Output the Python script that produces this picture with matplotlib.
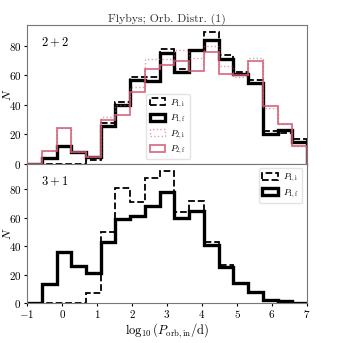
import numpy as np
import matplotlib
matplotlib.use("Agg")
import matplotlib.pyplot as plt
from matplotlib.patches import Patch

plt.rcParams['font.family'] = 'serif'
plt.rcParams['font.serif'] = ['cmr10', 'DejaVu Serif']
plt.rcParams['mathtext.fontset'] = 'cm'
plt.rcParams['axes.formatter.use_mathtext'] = True
plt.rcParams['axes.unicode_minus'] = True

edges = np.linspace(-1, 7, 20)

# 2+2 panel
p1i_22 = [0, 0, 0, 0, 3, 28, 42, 59, 59, 78, 64, 77, 89, 74, 62, 57, 22, 21, 17]
p1f_22 = [0, 4, 12, 8, 5, 26, 40, 57, 56, 75, 62, 77, 84, 71, 61, 55, 20, 23, 15]
p2i_22 = [0, 9, 24, 8, 5, 32, 40, 52, 71, 71, 77, 72, 80, 66, 59, 72, 38, 27, 12]
p2f_22 = [0, 9, 24, 8, 5, 30, 33, 49, 64, 67, 70, 63, 76, 61, 60, 70, 39, 27, 12]

# 3+1 panel
p1i_31 = [0, 0, 0, 0, 7, 50, 81, 71, 88, 93, 64, 72, 43, 27, 14, 8, 2, 1, 0]
p1f_31 = [0, 13, 36, 26, 21, 43, 59, 61, 68, 78, 60, 65, 41, 25, 14, 8, 2, 1, 0]

title = "Flybys; Orb. Distr. (1)"
pink = '#d45a72'

styles = {
    'p1i': dict(edgecolor='k', ls='--', lw=1.3, alpha=1.0),
    'p1f': dict(edgecolor='k', ls='-', lw=2.4, alpha=1.0),
    'p2i': dict(edgecolor=pink, ls=':', lw=1.0, alpha=0.6),
    'p2f': dict(edgecolor=pink, ls='-', lw=1.3, alpha=0.85),
}
labels = {'p1i': r'$P_{1,\mathrm{i}}$', 'p1f': r'$P_{1,\mathrm{f}}$',
          'p2i': r'$P_{2,\mathrm{i}}$', 'p2f': r'$P_{2,\mathrm{f}}$'}

def draw(ax, vals, key):
    st = styles[key]
    ax.stairs(vals, edges, color=st['edgecolor'], ls=st['ls'], lw=st['lw'], alpha=st['alpha'])

def handle(key):
    st = styles[key]
    return Patch(facecolor='none', edgecolor=st['edgecolor'], ls=st['ls'],
                 lw=st['lw'], alpha=st['alpha'], label=labels[key])

fig = plt.figure(figsize=(3.43, 3.43), dpi=100)
ax1 = fig.add_axes([0.079, 0.522, 0.816, 0.405])
ax2 = fig.add_axes([0.079, 0.117, 0.816, 0.405], sharex=ax1)

draw(ax1, p1i_22, 'p1i')
draw(ax1, p1f_22, 'p1f')
draw(ax1, p2i_22, 'p2i')
draw(ax1, p2f_22, 'p2f')
draw(ax2, p1i_31, 'p1i')
draw(ax2, p1f_31, 'p1f')

for ax in (ax1, ax2):
    ax.set_xlim(-1, 7)
    ax.set_ylabel(r'$N$', fontsize=8.5)
    ax.yaxis.set_label_coords(-0.05, 0.5)
    ax.tick_params(labelsize=8, length=2.5, pad=1.5)
    for s in ax.spines.values():
        s.set_color('#777777')
ax1.set_ylim(0, 94)
ax2.set_ylim(0, 98)
ax1.set_yticks([0, 20, 40, 60, 80])
ax2.set_yticks([0, 20, 40, 60, 80])
ax1.tick_params(labelbottom=False)
ax2.set_xticks(range(-1, 8))
ax2.set_xlabel(r'$\log_{10}(P_{\mathrm{orb,in}}/\mathrm{d})$', fontsize=9, labelpad=1)

ax1.text(0.05, 0.85, r'$2+2$', transform=ax1.transAxes, fontsize=9)
ax2.text(0.05, 0.85, r'$3+1$', transform=ax2.transAxes, fontsize=9)
ax1.set_title(title, fontsize=8.5, pad=2, color='#333333')

leg_kw = dict(fontsize=6.5, handlelength=1.7, handleheight=0.8, labelspacing=0.3,
              borderpad=0.35, handletextpad=0.6, framealpha=0.8, edgecolor='#dddddd')
ax1.legend(handles=[handle(k) for k in ['p1i', 'p1f', 'p2i', 'p2f']],
           loc='lower left', bbox_to_anchor=(0.41, 0.0), **leg_kw)
ax2.legend(handles=[handle(k) for k in ['p1i', 'p1f']], loc='upper right', **leg_kw)

fig.savefig('out.png', dpi=100)
